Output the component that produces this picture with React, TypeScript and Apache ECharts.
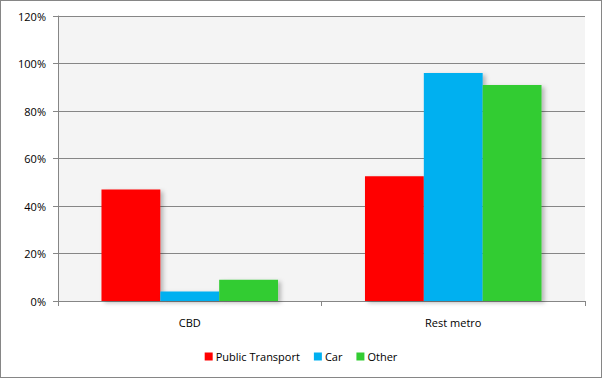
import React, { useEffect, useRef } from "react";
import * as echarts from "echarts";

const categories = ["CBD", "Rest metro"];
const publicTransport = [47, 52.5];
const car = [4, 96];
const other = [9, 91];
const seriesNames = ["Public Transport", "Car", "Other"];
const seriesColors = ["#FF0000", "#00B0F0", "#33CC33"];

export default function App() {
  const ref = useRef<HTMLDivElement>(null);
  useEffect(() => {
    document.body.style.margin = "0";
    const chart = echarts.init(ref.current!, null, { renderer: "svg" });
    const font = "'Open Sans', 'Noto Sans', sans-serif";
    const values = [publicTransport, car, other];
    chart.setOption({
      animation: false,
      backgroundColor: "#ffffff",
      textStyle: { fontFamily: font },
      grid: {
        left: 57,
        right: 16,
        top: 15,
        bottom: 76,
        show: true,
        backgroundColor: "#F4F4F4",
        borderWidth: 0,
      },
      legend: {
        bottom: 10,
        left: "center",
        itemWidth: 8,
        itemHeight: 8,
        itemGap: 14,
        icon: "rect",
        textStyle: { fontSize: 11, color: "#000", fontFamily: font, padding: [0, 0, 0, -2] },
        data: seriesNames,
      },
      xAxis: {
        type: "category",
        data: categories,
        axisLine: { show: true, lineStyle: { color: "#868686", width: 1 } },
        axisTick: { show: true, length: 5, lineStyle: { color: "#868686" } },
        axisLabel: { color: "#000", fontSize: 11, margin: 16, fontFamily: font },
      },
      yAxis: {
        type: "value",
        min: 0,
        max: 120,
        interval: 20,
        axisLine: { show: true, lineStyle: { color: "#868686", width: 1 } },
        axisTick: { show: true, length: 5, lineStyle: { color: "#868686" } },
        axisLabel: { color: "#000", fontSize: 11, margin: 12, formatter: "{value}%", fontFamily: font },
        splitLine: { show: true, lineStyle: { color: "#868686", width: 1 } },
      },
      series: seriesNames.map((name, i) => ({
        name,
        type: "bar",
        data: values[i],
        barGap: "0%",
        barCategoryGap: "33%",
        itemStyle: {
          color: seriesColors[i],
          shadowBlur: 4,
          shadowOffsetX: 3,
          shadowOffsetY: 2,
          shadowColor: "rgba(0,0,0,0.25)",
        },
      })),
    });
    return () => chart.dispose();
  }, []);
  return (
    <div
      ref={ref}
      style={{
        width: 602,
        height: 378,
        boxSizing: "border-box",
        border: "1px solid #868686",
      }}
    />
  );
}
